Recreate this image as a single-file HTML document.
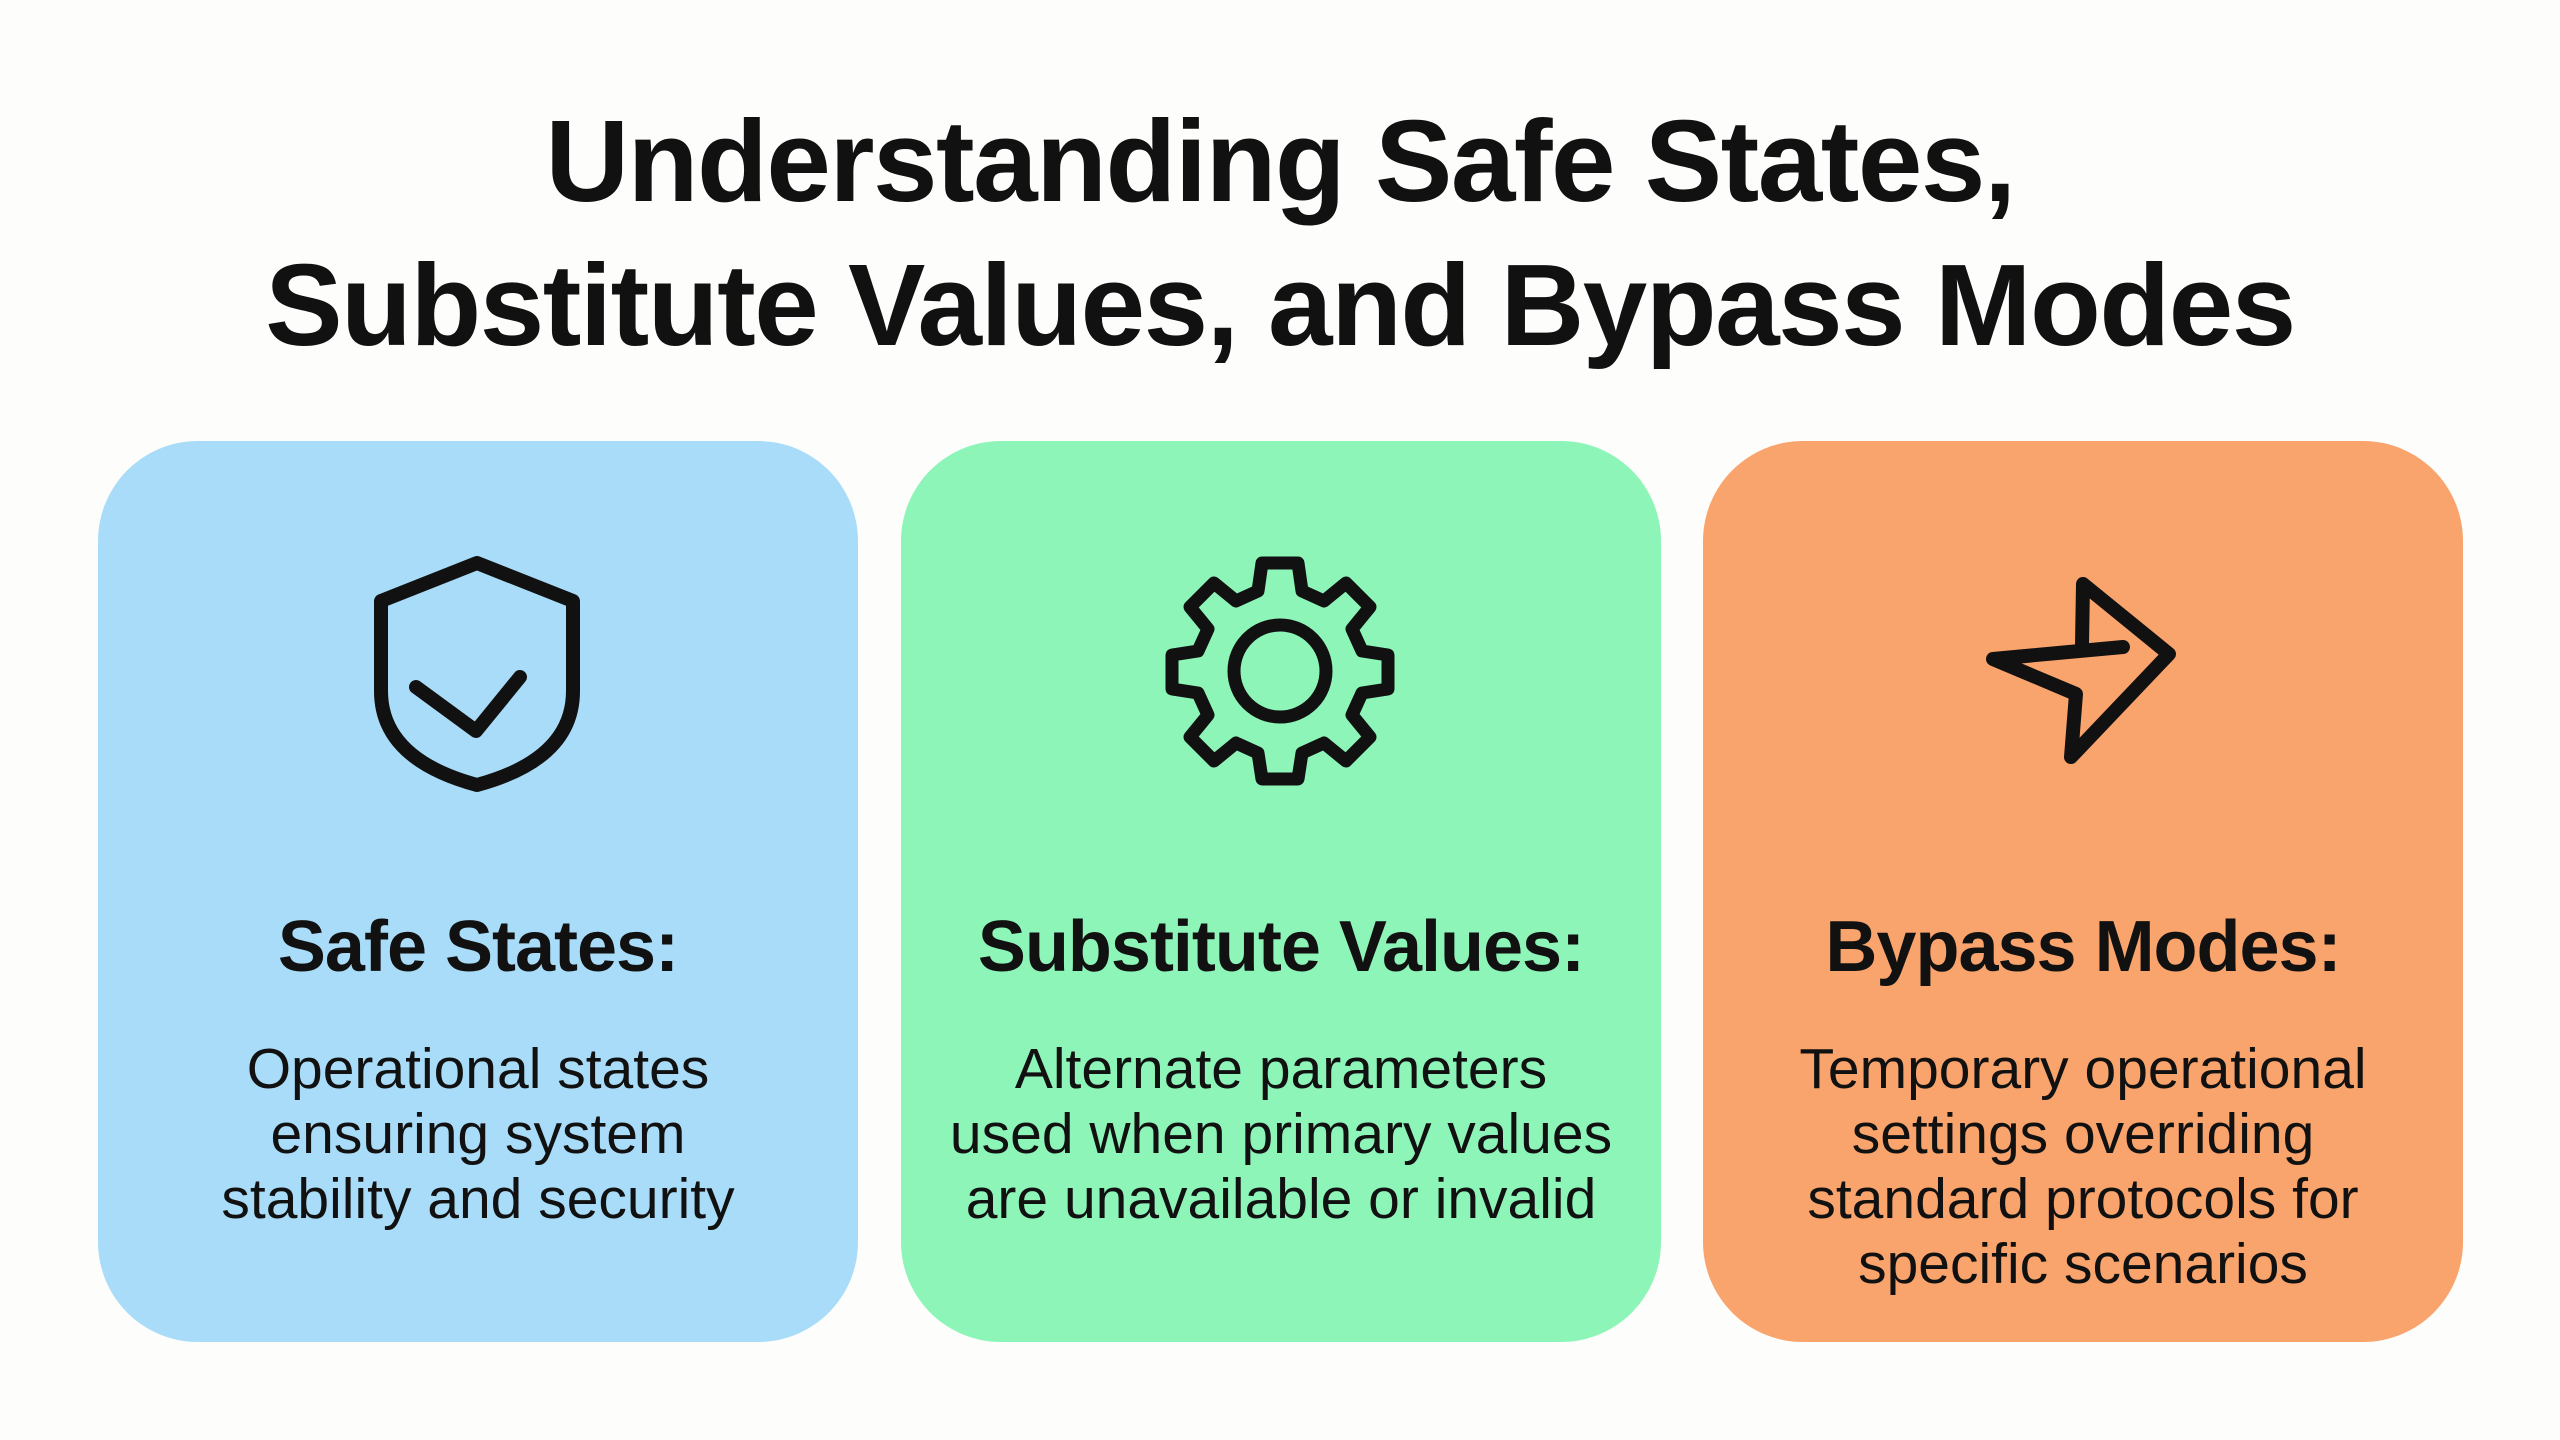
<!DOCTYPE html>
<html><head><meta charset="utf-8"><style>
body{margin:0;width:2560px;height:1440px;background:#fdfdfb;font-family:"Liberation Sans",sans-serif;position:relative;overflow:hidden}
.t{position:absolute;left:0;width:2560px;text-align:center;font-weight:bold;font-size:116px;color:#111;letter-spacing:-1.5px}
.card{position:absolute;top:441px;width:760px;height:901px;border-radius:100px}
.h{position:absolute;top:465px;left:0;width:100%;text-align:center;font-weight:bold;font-size:72px;color:#111;letter-spacing:-1px}
.p{position:absolute;top:596px;left:0;width:100%;text-align:center;font-size:57px;line-height:65px;color:#111}
svg{position:absolute;left:0;top:0}
</style></head><body>
<div class="t" style="top:94px">Understanding Safe States,</div>
<div class="t" style="top:238px">Substitute Values, and Bypass Modes</div>
<div class="card" style="left:98px;background:#a9dcf8">
<svg width="760" height="500"><path d="M379 122 L475 160 L475 250 Q475 318 379 344 Q283 318 283 250 L283 160 Z" fill="none" stroke="#111" stroke-width="14" stroke-linejoin="round"/>
<path d="M318 246 L378 290 L422 236" fill="none" stroke="#111" stroke-width="14" stroke-linecap="round" stroke-linejoin="round"/></svg>
<div class="h">Safe States:</div>
<div class="p">Operational states<br>ensuring system<br>stability and security</div></div>
<div class="card" style="left:901px;background:#8ef5b9">
<svg width="760" height="500"><g transform="translate(379,230)" fill="none" stroke="#111" stroke-width="13" stroke-linejoin="round">
<path d="M-18 -108 L18 -108 L22 -80 L44 -70 L66 -88 L90 -64 L72 -42 L82 -20 L108 -16 L108 18 L82 22 L72 44 L90 66 L66 90 L44 72 L22 82 L18 108 L-18 108 L-22 82 L-44 72 L-66 90 L-90 66 L-72 44 L-82 22 L-108 18 L-108 -16 L-82 -20 L-72 -42 L-90 -64 L-66 -88 L-44 -70 L-22 -80 Z"/>
<circle r="46"/></g></svg>
<div class="h">Substitute Values:</div>
<div class="p">Alternate parameters<br>used when primary values<br>are unavailable or invalid</div></div>
<div class="card" style="left:1703px;background:#f9a46c">
<svg width="760" height="500"><path d="M380 143 L466 213 L368 316 L373 253 L290 218 L420 206 M380 143 L379 204" fill="none" stroke="#111" stroke-width="14" stroke-linejoin="round" stroke-linecap="round"/></svg>
<div class="h">Bypass Modes:</div>
<div class="p">Temporary operational<br>settings overriding<br>standard protocols for<br>specific scenarios</div></div>
</body></html>
